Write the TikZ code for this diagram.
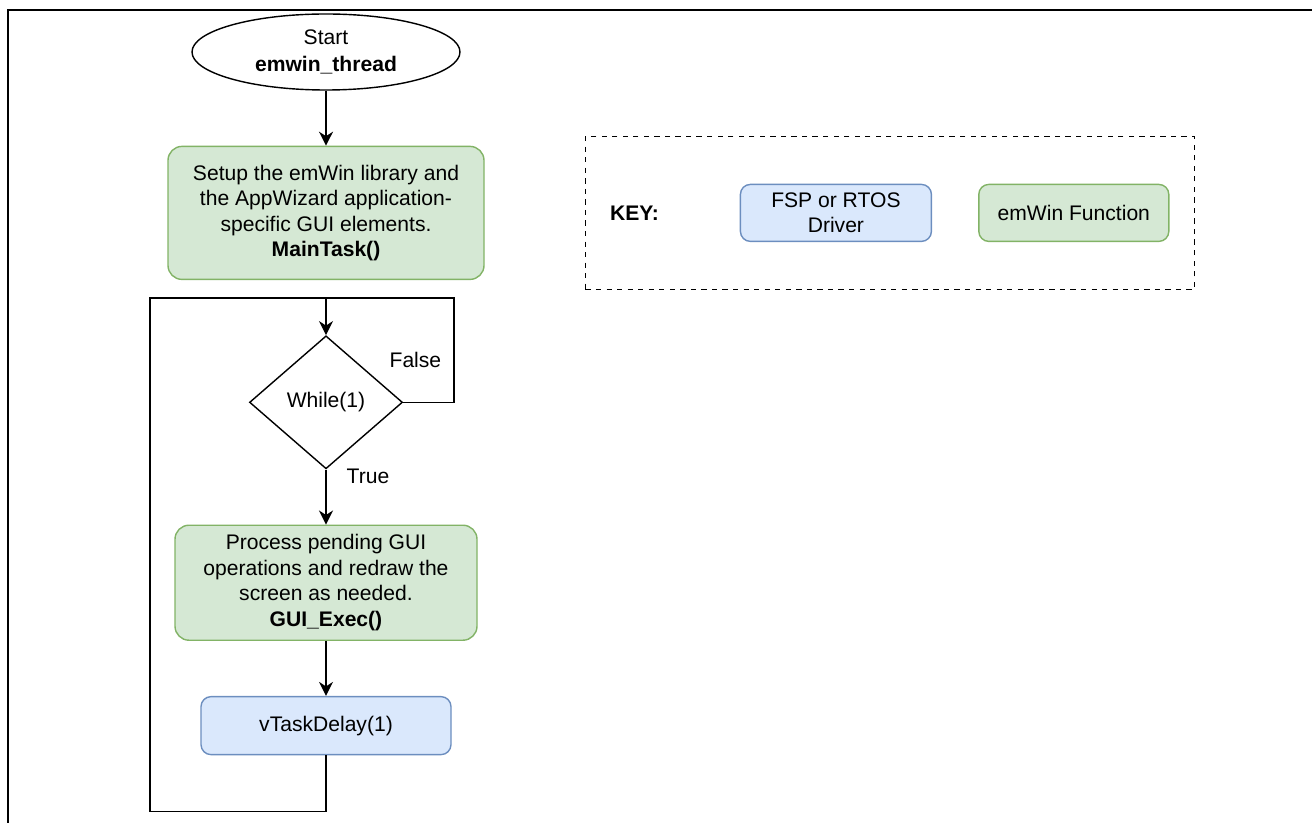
\documentclass[tikz,border=0pt]{standalone}
\usepackage{fontspec}
\setmainfont{Liberation Sans}
\usetikzlibrary{positioning,shapes.geometric,arrows.meta}

\definecolor{gfill}{HTML}{D5E8D4}
\definecolor{gline}{HTML}{82B366}
\definecolor{bfill}{HTML}{DAE8FC}
\definecolor{bline}{HTML}{6C8EBF}

\tikzset{
	base/.style={align=center, font=\fontsize{12}{14.5}\selectfont, inner sep=0pt, line width=0.8pt},
	startnode/.style={base, ellipse, draw, minimum width=5.36cm, minimum height=1.52cm},
	emwinbox/.style={base, rectangle, rounded corners=0.28cm, draw=gline, fill=gfill},
	fspbox/.style={base, rectangle, rounded corners=0.2cm, draw=bline, fill=bfill},
	decision/.style={base, diamond, draw, minimum width=3.06cm, minimum height=2.66cm},
	keyframe/.style={draw, dashed, line width=0.8pt, minimum width=12.18cm, minimum height=3.06cm},
	lbl/.style={font=\fontsize{12}{14.5}\selectfont, inner sep=0pt},
	arr/.style={-{Stealth[length=8pt,width=8pt]}, line width=0.8pt},
	line/.style={line width=0.8pt}
}

\begin{document}
\begin{tikzpicture}[node distance=1.1cm]
	\useasboundingbox (0,0) rectangle (26.24,-16.46);
	% open frame of the screenshot
	\draw[line width=1.2pt] (0.16,-16.46) -- (0.16,-0.2) -- (26.24,-0.2);

	\node[startnode] (start) at (6.52,-1.04) {Start\\[1pt]\textbf{emwin\_thread}};
	\node[emwinbox, below=of start, minimum width=6.32cm, minimum height=2.66cm] (setup)
		{Setup the emWin library and\\the AppWizard application-\\specific GUI elements.\\\textbf{MainTask()}};
	\node[decision, below=of setup] (cond) {While(1)};
	\node[emwinbox, below=of cond, minimum width=6.04cm, minimum height=2.3cm] (process)
		{Process pending GUI\\operations and redraw the\\screen as needed.\\\textbf{GUI\_Exec()}};
	\node[fspbox, below=of process, minimum width=5cm, minimum height=1.16cm] (delay) {vTaskDelay(1)};

	\coordinate[above=0.74cm of cond] (looptop);

	\draw[arr] (start) -- (setup);
	\draw[arr] (looptop) -- (cond);
	\draw[arr] (cond) -- node[lbl, pos=0.12, right=0.4cm] {True} (process);
	\draw[arr] (process) -- (delay);
	\draw[line] (cond.east) -| node[lbl, pos=0.12, above=0.68cm] {False} ([xshift=2.56cm]looptop) -- (looptop);
	\draw[line] (delay.south) -- ++(0,-1.12) -| ([xshift=-3.52cm]looptop) -- (looptop);

	% key
	\node[keyframe, right=2.0cm of setup] (key) {};
	\node[lbl, right=0.5cm of key.west, font=\fontsize{12}{14.5}\selectfont\bfseries] (keytxt) {KEY:};
	\node[fspbox, right=3.1cm of key.west, minimum width=3.82cm, minimum height=1.14cm] (keyfsp) {FSP or RTOS\\Driver};
	\node[emwinbox, right=0.92cm of keyfsp, minimum width=3.8cm, minimum height=1.14cm, rounded corners=0.2cm] (keyemwin) {emWin Function};
\end{tikzpicture}
\end{document}
